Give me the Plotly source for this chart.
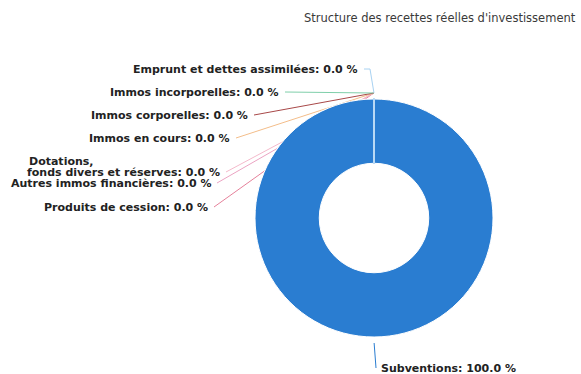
import math
import plotly.graph_objects as go

W, H = 581, 374

# ---- data ----
categories = [
    "Subventions",
    "Produits de cession",
    "Autres immos financières",
    "Dotations, fonds divers et réserves",
    "Immos en cours",
    "Immos corporelles",
    "Immos incorporelles",
    "Emprunt et dettes assimilées",
]
values = [1000000, 40, 40, 40, 40, 40, 40, 60]
colors = ["#2a7dd1", "#e5809a", "#eba3c2", "#f4b9cb", "#f3bd8a",
          "#a84848", "#7fcfaa", "#a8d2f2"]

# ---- layout (label anchor positions in pixels, side, optional bend) ----
label_pos = [
    (379, 368, "left", (375, 362)),
    (210, 207, "right", None),
    (213, 183, "right", None),
    (222, 172, "right", None),
    (232, 138, "right", None),
    (250, 115, "right", None),
    (281, 92, "right", None),
    (360, 69, "right", (370, 69)),
]

dom_x = [255 / W, 493 / W]
dom_y = [(H - 337) / H, (H - 99) / H]

cx = (dom_x[0] + dom_x[1]) / 2 * W
cy = H - (dom_y[0] + dom_y[1]) / 2 * H
r = min((dom_x[1] - dom_x[0]) * W, (dom_y[1] - dom_y[0]) * H) / 2

total = sum(values)
fig = go.Figure()

line_colors = ["white"] + ["#b9d9f5"] * (len(values) - 1)
line_widths = [1] + [1.5] * (len(values) - 1)

fig.add_trace(go.Pie(
    labels=categories, values=values, hole=0.46, sort=False,
    direction="clockwise", rotation=0,
    marker=dict(colors=colors, line=dict(color=line_colors, width=line_widths)),
    textinfo="none", hoverinfo="label+percent", showlegend=False,
    domain=dict(x=dom_x, y=dom_y),
))

lab_font = dict(family="DejaVu Sans", size=11, color="#222222")
cum = 0
annotations = []
for cat, v, col, (lx, ly, side, bend) in zip(categories, values, colors, label_pos):
    mid = (cum + v / 2) / total * 2 * math.pi
    cum += v
    R = r + 6
    tx = cx + R * math.sin(mid)
    ty = cy - R * math.cos(mid)
    gap = -3 if side == "left" else 4
    xs = [tx]
    ys = [ty]
    if bend:
        xs.append(bend[0]); ys.append(bend[1])
    xs.append(lx + gap); ys.append(ly)
    fig.add_trace(go.Scatter(x=xs, y=ys, mode="lines", line=dict(color=col, width=1),
                             hoverinfo="skip", showlegend=False))
    pct = v / total * 100
    if cat.startswith("Dotations"):
        first, rest = cat.split(" ", 1)
        annotations.append(dict(
            x=27, y=ly - 11, xref="x", yref="y", showarrow=False,
            text=f"<b>{first}</b>", xanchor="left", yanchor="middle", font=lab_font))
        name = rest
    else:
        name = cat
    annotations.append(dict(
        x=lx, y=ly, xref="x", yref="y", showarrow=False,
        text=f"<b>{name}: {pct:.1f} %</b>",
        xanchor=side, yanchor="middle",
        font=lab_font,
    ))

annotations.append(dict(
    x=578, y=18, xref="x", yref="y", showarrow=False,
    text="Structure des recettes réelles d'investissement",
    xanchor="right", yanchor="middle",
    font=dict(family="DejaVu Sans", size=11.5, color="#3a3a3a"),
))

fig.update_layout(
    width=W, height=H,
    margin=dict(l=0, r=0, t=0, b=0),
    paper_bgcolor="white", plot_bgcolor="white",
    xaxis=dict(range=[0, W], visible=False, fixedrange=True, domain=[0, 1]),
    yaxis=dict(range=[H, 0], visible=False, fixedrange=True, domain=[0, 1]),
    annotations=annotations,
    showlegend=False,
)

fig.write_html("out.html")
